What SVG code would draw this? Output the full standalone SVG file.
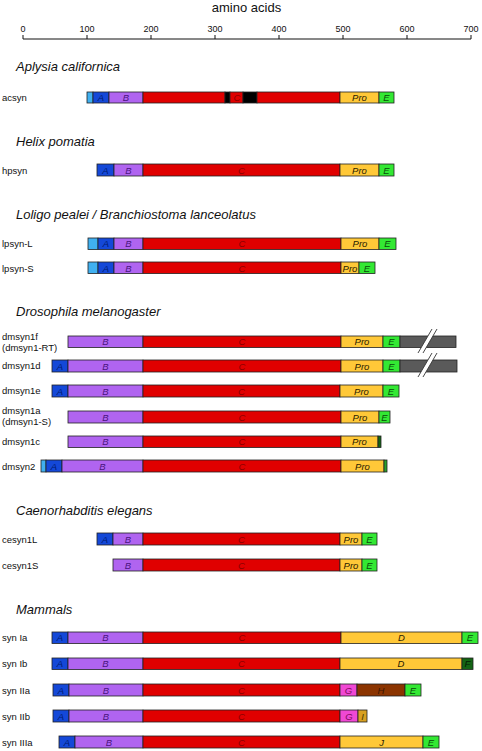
<svg xmlns="http://www.w3.org/2000/svg" width="482" height="751" viewBox="0 0 482 751">
<style>
text{font-family:"Liberation Sans",Arial,sans-serif}
.ttl{font-size:13px;font-style:italic;fill:#111}
.rl{font-size:9.5px;fill:#111}
.ax{font-size:9px;fill:#111;text-anchor:middle}
.sl{font-size:9.5px;font-style:italic;text-anchor:middle}
rect{stroke:#222;stroke-width:0.8}
.lb{fill:#40b0f0}.a{fill:#1448d8}.b{fill:#b064f0}.c{fill:#e00000}.k{fill:#000}
.p{fill:#ffc838}.e{fill:#33e833}.g{fill:#5a5a5a}.f{fill:#146414}.gg{fill:#f048d4}
.h{fill:#8b3400}.i{fill:#d8a020}
.ta{fill:#001a70}.tb{fill:#4a1480}.tc{fill:#8a0000}.tp{fill:#2a2000}.te{fill:#0a4a0a}
.tg{fill:#800a60}.th{fill:#3a1400}.ti{fill:#4a3800}.tf{fill:#041c04}
</style>
<g id="axis">
<text x="246.5" y="12" style="font-size:13px;text-anchor:middle;fill:#111">amino acids</text>
<line x1="23" y1="39" x2="471" y2="39" stroke="#111" stroke-width="1"/>
<g stroke="#111" stroke-width="1">
<line x1="23" y1="35" x2="23" y2="39"/><line x1="87" y1="35" x2="87" y2="39"/><line x1="151" y1="35" x2="151" y2="39"/><line x1="215" y1="35" x2="215" y2="39"/><line x1="279" y1="35" x2="279" y2="39"/><line x1="343" y1="35" x2="343" y2="39"/><line x1="407" y1="35" x2="407" y2="39"/><line x1="471" y1="35" x2="471" y2="39"/>
</g>
<text class="ax" x="23" y="32">0</text><text class="ax" x="87" y="32">100</text><text class="ax" x="151" y="32">200</text><text class="ax" x="215" y="32">300</text><text class="ax" x="279" y="32">400</text><text class="ax" x="343" y="32">500</text><text class="ax" x="407" y="32">600</text><text class="ax" x="471" y="32">700</text>
</g>

<text class="ttl" x="16" y="71">Aplysia californica</text>
<g id="acsyn">
<text class="rl" x="2" y="101">acsyn</text>
<rect class="lb" x="87" y="92" width="6" height="11"/>
<rect class="a" x="93" y="92" width="16" height="11"/>
<rect class="b" x="109" y="92" width="34" height="11"/>
<rect class="c" x="143" y="92" width="82" height="11"/>
<rect class="k" x="225" y="92" width="5" height="11"/>
<rect class="c" x="230" y="92" width="13" height="11"/>
<rect class="k" x="243" y="92" width="14" height="11"/>
<rect class="c" x="257" y="92" width="83" height="11"/>
<rect class="p" x="340" y="92" width="39" height="11"/>
<rect class="e" x="379" y="92" width="15" height="11"/>
<text class="sl ta" x="101" y="101">A</text><text class="sl tb" x="126" y="101">B</text><text class="sl tc" x="237" y="101">C</text><text class="sl tp" x="359.5" y="101">Pro</text><text class="sl te" x="386.5" y="101">E</text>
</g>

<text class="ttl" x="16" y="146">Helix pomatia</text>
<g id="hpsyn">
<text class="rl" x="2" y="173.5">hpsyn</text>
<rect class="a" x="97" y="164" width="17" height="12"/>
<rect class="b" x="114" y="164" width="29" height="12"/>
<rect class="c" x="143" y="164" width="197" height="12"/>
<rect class="p" x="340" y="164" width="39" height="12"/>
<rect class="e" x="379" y="164" width="15" height="12"/>
<text class="sl ta" x="105.5" y="173.5">A</text><text class="sl tb" x="128.5" y="173.5">B</text><text class="sl tc" x="241.5" y="173.5">C</text><text class="sl tp" x="359.5" y="173.5">Pro</text><text class="sl te" x="386.5" y="173.5">E</text>
</g>

<text class="ttl" x="16" y="219">Loligo pealei / Branchiostoma lanceolatus</text>
<g id="lpsyn-L">
<text class="rl" x="2" y="247">lpsyn-L</text>
<rect class="lb" x="88" y="238" width="10" height="11.5"/>
<rect class="a" x="98" y="238" width="16" height="11.5"/>
<rect class="b" x="114" y="238" width="29" height="11.5"/>
<rect class="c" x="143" y="238" width="198" height="11.5"/>
<rect class="p" x="341" y="238" width="38" height="11.5"/>
<rect class="e" x="379" y="238" width="17" height="11.5"/>
<text class="sl ta" x="106" y="247">A</text><text class="sl tb" x="128.5" y="247">B</text><text class="sl tc" x="242" y="247">C</text><text class="sl tp" x="360" y="247">Pro</text><text class="sl te" x="387.5" y="247">E</text>
</g>
<g id="lpsyn-S">
<text class="rl" x="2" y="271.5">lpsyn-S</text>
<rect class="lb" x="88" y="262" width="10" height="11.5"/>
<rect class="a" x="98" y="262" width="16" height="11.5"/>
<rect class="b" x="114" y="262" width="29" height="11.5"/>
<rect class="c" x="143" y="262" width="198" height="11.5"/>
<rect class="p" x="341" y="262" width="18" height="11.5"/>
<rect class="e" x="359" y="262" width="16" height="11.5"/>
<text class="sl ta" x="106" y="271.5">A</text><text class="sl tb" x="128.5" y="271.5">B</text><text class="sl tc" x="242" y="271.5">C</text><text class="sl tp" x="350" y="271.5">Pro</text><text class="sl te" x="367" y="271.5">E</text>
</g>

<text class="ttl" x="16" y="316">Drosophila melanogaster</text>
<g id="dmsyn1f">
<text class="rl" x="2" y="340">dmsyn1f</text><text class="rl" x="2" y="351">(dmsyn1-RT)</text>
<rect class="b" x="68" y="336" width="75" height="11.5"/>
<rect class="c" x="143" y="336" width="198" height="11.5"/>
<rect class="p" x="341" y="336" width="42" height="11.5"/>
<rect class="e" x="383" y="336" width="17" height="11.5"/>
<rect class="g" x="400" y="336" width="56" height="11.5"/>
<polygon points="432,329 437,329 423,353 418,353" fill="#fff"/>
<line x1="432" y1="329" x2="418" y2="353" stroke="#333" stroke-width="0.9"/>
<line x1="437" y1="329" x2="423" y2="353" stroke="#333" stroke-width="0.9"/>
<text class="sl tb" x="105.5" y="345">B</text><text class="sl tc" x="242" y="345">C</text><text class="sl tp" x="362" y="345">Pro</text><text class="sl te" x="391.5" y="345">E</text>
</g>
<g id="dmsyn1d">
<text class="rl" x="2" y="369">dmsyn1d</text>
<rect class="a" x="52" y="360" width="16" height="12"/>
<rect class="b" x="68" y="360" width="75" height="12"/>
<rect class="c" x="143" y="360" width="198" height="12"/>
<rect class="p" x="341" y="360" width="42" height="12"/>
<rect class="e" x="383" y="360" width="17" height="12"/>
<rect class="g" x="400" y="360" width="57" height="12"/>
<polygon points="432,353 437,353 423,377 418,377" fill="#fff"/>
<line x1="432" y1="353" x2="418" y2="377" stroke="#333" stroke-width="0.9"/>
<line x1="437" y1="353" x2="423" y2="377" stroke="#333" stroke-width="0.9"/>
<text class="sl ta" x="60" y="369.5">A</text><text class="sl tb" x="105.5" y="369.5">B</text><text class="sl tc" x="242" y="369.5">C</text><text class="sl tp" x="362" y="369.5">Pro</text><text class="sl te" x="391.5" y="369.5">E</text>
</g>
<g id="dmsyn1e">
<text class="rl" x="2" y="394">dmsyn1e</text>
<rect class="a" x="52" y="385" width="16" height="12"/>
<rect class="b" x="68" y="385" width="75" height="12"/>
<rect class="c" x="143" y="385" width="197" height="12"/>
<rect class="p" x="340" y="385" width="43" height="12"/>
<rect class="e" x="383" y="385" width="16" height="12"/>
<text class="sl ta" x="60" y="394.5">A</text><text class="sl tb" x="105.5" y="394.5">B</text><text class="sl tc" x="241.5" y="394.5">C</text><text class="sl tp" x="361.5" y="394.5">Pro</text><text class="sl te" x="391" y="394.5">E</text>
</g>
<g id="dmsyn1a">
<text class="rl" x="2" y="414">dmsyn1a</text><text class="rl" x="2" y="425">(dmsyn1-S)</text>
<rect class="b" x="68" y="411" width="75" height="12"/>
<rect class="c" x="143" y="411" width="198" height="12"/>
<rect class="p" x="341" y="411" width="38" height="12"/>
<rect class="e" x="379" y="411" width="11" height="12"/>
<text class="sl tb" x="105.5" y="420.5">B</text><text class="sl tc" x="242" y="420.5">C</text><text class="sl tp" x="360" y="420.5">Pro</text><text class="sl te" x="384.5" y="420.5">E</text>
</g>
<g id="dmsyn1c">
<text class="rl" x="2" y="445">dmsyn1c</text>
<rect class="b" x="68" y="436" width="75" height="11.5"/>
<rect class="c" x="143" y="436" width="198" height="11.5"/>
<rect class="p" x="341" y="436" width="37" height="11.5"/>
<rect class="f" x="378" y="436" width="3" height="11.5"/>
<text class="sl tb" x="105.5" y="445">B</text><text class="sl tc" x="242" y="445">C</text><text class="sl tp" x="359.5" y="445">Pro</text>
</g>
<g id="dmsyn2">
<text class="rl" x="2" y="469.5">dmsyn2</text>
<rect class="lb" x="41" y="460" width="5" height="12"/>
<rect class="a" x="46" y="460" width="16" height="12"/>
<rect class="b" x="62" y="460" width="81" height="12"/>
<rect class="c" x="143" y="460" width="198" height="12"/>
<rect class="p" x="341" y="460" width="43" height="12"/>
<rect class="e" x="384" y="460" width="3" height="12" style="fill:#2aa02a"/>
<text class="sl ta" x="54" y="469.5">A</text><text class="sl tb" x="102.5" y="469.5">B</text><text class="sl tc" x="242" y="469.5">C</text><text class="sl tp" x="362.5" y="469.5">Pro</text>
</g>

<text class="ttl" x="16" y="515">Caenorhabditis elegans</text>
<g id="cesyn1L">
<text class="rl" x="2" y="542.5">cesyn1L</text>
<rect class="a" x="97" y="533" width="16" height="12"/>
<rect class="b" x="113" y="533" width="30" height="12"/>
<rect class="c" x="143" y="533" width="197" height="12"/>
<rect class="p" x="340" y="533" width="22" height="12"/>
<rect class="e" x="362" y="533" width="15" height="12"/>
<text class="sl ta" x="105" y="542.5">A</text><text class="sl tb" x="128" y="542.5">B</text><text class="sl tc" x="241.5" y="542.5">C</text><text class="sl tp" x="351" y="542.5">Pro</text><text class="sl te" x="369.5" y="542.5">E</text>
</g>
<g id="cesyn1S">
<text class="rl" x="2" y="568.5">cesyn1S</text>
<rect class="b" x="113" y="559" width="30" height="12"/>
<rect class="c" x="143" y="559" width="197" height="12"/>
<rect class="p" x="340" y="559" width="22" height="12"/>
<rect class="e" x="362" y="559" width="15" height="12"/>
<text class="sl tb" x="128" y="568.5">B</text><text class="sl tc" x="241.5" y="568.5">C</text><text class="sl tp" x="351" y="568.5">Pro</text><text class="sl te" x="369.5" y="568.5">E</text>
</g>

<text class="ttl" x="16" y="614">Mammals</text>
<g id="synIa">
<text class="rl" x="2" y="641">syn Ia</text>
<rect class="a" x="52" y="632" width="16" height="11.5"/>
<rect class="b" x="68" y="632" width="75" height="11.5"/>
<rect class="c" x="143" y="632" width="198" height="11.5"/>
<rect class="p" x="341" y="632" width="121" height="11.5"/>
<rect class="e" x="462" y="632" width="16" height="11.5"/>
<text class="sl ta" x="60" y="641">A</text><text class="sl tb" x="105.5" y="641">B</text><text class="sl tc" x="242" y="641">C</text><text class="sl tp" x="401.5" y="641">D</text><text class="sl te" x="470" y="641">E</text>
</g>
<g id="synIb">
<text class="rl" x="2" y="667">syn Ib</text>
<rect class="a" x="52" y="658" width="16" height="11.5"/>
<rect class="b" x="68" y="658" width="75" height="11.5"/>
<rect class="c" x="143" y="658" width="197" height="11.5"/>
<rect class="p" x="340" y="658" width="122" height="11.5"/>
<rect class="f" x="462" y="658" width="11" height="11.5"/>
<text class="sl ta" x="60" y="667">A</text><text class="sl tb" x="105.5" y="667">B</text><text class="sl tc" x="241.5" y="667">C</text><text class="sl tp" x="401" y="667">D</text><text class="sl tf" x="467.5" y="667">F</text>
</g>
<g id="synIIa">
<text class="rl" x="2" y="693.5">syn IIa</text>
<rect class="a" x="53" y="684" width="16" height="12"/>
<rect class="b" x="69" y="684" width="74" height="12"/>
<rect class="c" x="143" y="684" width="197" height="12"/>
<rect class="gg" x="340" y="684" width="17" height="12"/>
<rect class="h" x="357" y="684" width="48" height="12"/>
<rect class="e" x="405" y="684" width="16" height="12"/>
<text class="sl ta" x="61" y="693.5">A</text><text class="sl tb" x="106" y="693.5">B</text><text class="sl tc" x="241.5" y="693.5">C</text><text class="sl tg" x="348.5" y="693.5">G</text><text class="sl th" x="381" y="693.5">H</text><text class="sl te" x="413" y="693.5">E</text>
</g>
<g id="synIIb">
<text class="rl" x="2" y="719.5">syn IIb</text>
<rect class="a" x="53" y="710" width="16" height="12"/>
<rect class="b" x="69" y="710" width="74" height="12"/>
<rect class="c" x="143" y="710" width="197" height="12"/>
<rect class="gg" x="340" y="710" width="18" height="12"/>
<rect class="i" x="358" y="710" width="9" height="12"/>
<text class="sl ta" x="61" y="719.5">A</text><text class="sl tb" x="106" y="719.5">B</text><text class="sl tc" x="241.5" y="719.5">C</text><text class="sl tg" x="349" y="719.5">G</text><text class="sl ti" x="362.5" y="719.5">I</text>
</g>
<g id="synIIIa">
<text class="rl" x="2" y="745.5">syn IIIa</text>
<rect class="a" x="59" y="736" width="16" height="12"/>
<rect class="b" x="75" y="736" width="68" height="12"/>
<rect class="c" x="143" y="736" width="197" height="12"/>
<rect class="p" x="340" y="736" width="83" height="12"/>
<rect class="e" x="423" y="736" width="16" height="12"/>
<text class="sl ta" x="67" y="745.5">A</text><text class="sl tb" x="109" y="745.5">B</text><text class="sl tc" x="241.5" y="745.5">C</text><text class="sl tp" x="381.5" y="745.5">J</text><text class="sl te" x="431" y="745.5">E</text>
</g>
</svg>
